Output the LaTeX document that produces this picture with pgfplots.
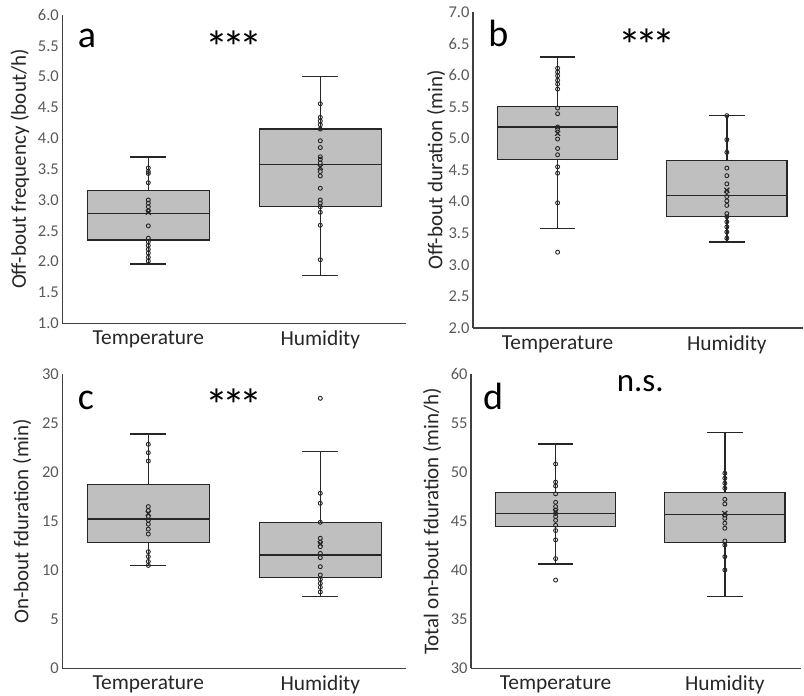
\documentclass[border=0pt]{standalone}
\usepackage{fontspec}
\setmainfont{Carlito}
\usepackage{pgfplots}
\pgfplotsset{compat=1.18}
\usepgfplotslibrary{statistics}

\definecolor{boxfill}{RGB}{191,191,191}
\definecolor{tickgray}{RGB}{89,89,89}
\definecolor{ink}{RGB}{38,38,38}
\definecolor{axisgray}{RGB}{64,64,64}

\pgfplotsset{
  panel/.style={
    scale only axis, anchor=south west,
    axis lines=left,
    axis line style={-, draw=axisgray, line width=1.3bp},
    major tick length=0pt,
    xmin=0.5, xtick={1,2}, xticklabels={Temperature,Humidity},
    tick label style={/pgf/number format/assume math mode=true},
    xticklabel style={font=\fontsize{21.4bp}{24bp}\selectfont, text=ink, yshift=-4bp},
    yticklabel style={font=\fontsize{16.5bp}{18bp}\selectfont, text=tickgray},
    ylabel style={font=\fontsize{21bp}{24bp}\selectfont, text=ink, anchor=center},
    clip=false,
    boxplot/draw direction=y,
    boxplot/box extend=0.71,
    boxplot/whisker extend=0.21,
  },
  onedec/.style={yticklabel style={/pgf/number format/.cd, fixed, fixed zerofill, precision=1}},
  bx/.style={draw=ink, fill=boxfill, line width=1.4bp, solid, mark=none},
  pts/.style={only marks, mark=o, mark size=2bp,
    mark options={draw=ink, fill=white, line width=0.9bp}},
  mn/.style={only marks, mark=x, mark size=3.5bp,
    mark options={draw=ink, line width=1.2bp}},
}
\tikzset{
  letter/.style={font=\fontsize{38bp}{40bp}\selectfont, anchor=base west, inner sep=0pt},
  sig/.style={font=\fontsize{46bp}{48bp}\selectfont, anchor=base, inner sep=0pt},
  ns/.style={font=\fontsize{33bp}{36bp}\selectfont, anchor=base, inner sep=0pt},
}
\newcommand{\stars}{*\kern-6bp*\kern-6bp*}

\begin{document}
\begin{tikzpicture}
\path[use as bounding box] (0,0) rectangle (804bp,696bp);

% a
\begin{axis}[panel, onedec, at={(62.3bp,372.7bp)}, width=344bp, height=308.3bp,
  xmax=2.5, ymin=1, ymax=6, ytick={1,1.5,...,6},
  ylabel={Off-bout frequency (bout/h)},
  ylabel style={at={(axis description cs:-0.123,0.5)}}]
\addplot[bx, boxplot prepared={lower whisker=1.96, lower quartile=2.35,
  median=2.78, upper quartile=3.15, upper whisker=3.70, draw position=1}] coordinates {};
\addplot[bx, boxplot prepared={lower whisker=1.78, lower quartile=2.89,
  median=3.58, upper quartile=4.15, upper whisker=5.00, draw position=2}] coordinates {};
\addplot[pts] coordinates {
  (1,3.52) (1,3.46) (1,3.43) (1,3.28) (1,3.00) (1,2.95) (1,2.89) (1,2.82)
  (1,2.58) (1,2.38) (1,2.32) (1,2.26) (1,2.20) (1,2.14) (1,2.07) (1,2.01)
  (2,4.56) (2,4.34) (2,4.28) (2,4.22) (2,4.15) (2,3.96) (2,3.85) (2,3.70)
  (2,3.66) (2,3.60) (2,3.46) (2,3.39) (2,3.19) (2,3.00) (2,2.95) (2,2.89)
  (2,2.80) (2,2.59) (2,2.03)
};
\addplot[mn] coordinates {(1,2.80) (2,3.53)};
\node[letter] at (axis cs:0.59,5.48) {a};
\node[sig] at (axis cs:1.5,5.22) {\stars};
\end{axis}

% b
\begin{axis}[panel, onedec, at={(473bp,368bp)}, width=330bp, height=316bp,
  xmax=2.45, ymin=2, ymax=7, ytick={2,2.5,...,7},
  ylabel={Off-bout duration (min)},
  ylabel style={at={(axis description cs:-0.112,0.5)}}]
\addplot[bx, boxplot prepared={lower whisker=3.57, lower quartile=4.67,
  median=5.18, upper quartile=5.50, upper whisker=6.29, draw position=1}] coordinates {};
\addplot[bx, boxplot prepared={lower whisker=3.36, lower quartile=3.76,
  median=4.10, upper quartile=4.65, upper whisker=5.36, draw position=2}] coordinates {};
\addplot[pts] coordinates {
  (1,6.11) (1,6.05) (1,5.99) (1,5.92) (1,5.86) (1,5.78) (1,5.48) (1,5.39)
  (1,5.18) (1,5.15) (1,4.99) (1,4.84) (1,4.74) (1,4.55) (1,4.45) (1,3.98)
  (1,3.20)
  (2,5.36) (2,4.98) (2,4.78) (2,4.53) (2,4.41) (2,4.28) (2,4.16) (2,4.08)
  (2,4.01) (2,3.94) (2,3.81) (2,3.76) (2,3.68) (2,3.60) (2,3.52) (2,3.42)
};
\addplot[mn] coordinates {(1,5.08) (2,4.18)};
\node[letter] at (axis cs:0.59,6.45) {b};
\node[sig] at (axis cs:1.53,6.22) {\stars};
\end{axis}

% c
\begin{axis}[panel, at={(62.3bp,27.7bp)}, width=344bp, height=294bp,
  xmax=2.5, ymin=0, ymax=30, ytick={0,5,...,30},
  ylabel={On-bout fduration (min)},
  ylabel style={at={(axis description cs:-0.117,0.5)}}]
\addplot[bx, boxplot prepared={lower whisker=10.48, lower quartile=12.86,
  median=15.24, upper quartile=18.78, upper whisker=23.9, draw position=1}] coordinates {};
\addplot[bx, boxplot prepared={lower whisker=7.31, lower quartile=9.25,
  median=11.56, upper quartile=14.90, upper whisker=22.10, draw position=2}] coordinates {};
\addplot[pts] coordinates {
  (1,22.86) (1,22.0) (1,21.15) (1,16.5) (1,16.1) (1,15.5) (1,15.1) (1,14.7)
  (1,14.2) (1,13.7) (1,11.9) (1,11.4) (1,10.9) (1,10.5)
  (2,27.55) (2,17.86) (2,16.84) (2,14.90) (2,13.27) (2,12.86) (2,12.41)
  (2,11.73) (2,11.29) (2,10.37) (2,9.52) (2,9.08) (2,8.67) (2,8.27) (2,7.79)
};
\addplot[mn] coordinates {(1,15.8) (2,12.7)};
\node[letter] at (axis cs:0.59,26.4) {c};
\node[sig] at (axis cs:1.5,25.2) {\stars};
\end{axis}

% d
\begin{axis}[panel, at={(471bp,27.7bp)}, width=330bp, height=294bp,
  xmax=2.45, ymin=30, ymax=60, ytick={30,35,...,60},
  ylabel={Total on-bout fduration (min/h)},
  ylabel style={at={(axis description cs:-0.118,0.5)}}]
\addplot[bx, boxplot prepared={lower whisker=40.65, lower quartile=44.46,
  median=45.78, upper quartile=47.93, upper whisker=52.89, draw position=1}] coordinates {};
\addplot[bx, boxplot prepared={lower whisker=37.31, lower quartile=42.86,
  median=45.71, upper quartile=47.96, upper whisker=54.04, draw position=2}] coordinates {};
\addplot[pts] coordinates {
  (1,50.85) (1,49.0) (1,48.6) (1,47.8) (1,46.94) (1,46.5) (1,46.15) (1,45.8)
  (1,45.48) (1,45.1) (1,44.6) (1,44.05) (1,43.1) (1,41.19) (1,39.0)
  (2,49.9) (2,49.39) (2,48.88) (2,48.37) (2,47.24) (2,46.77) (2,45.64)
  (2,45.3) (2,44.8) (2,44.29) (2,42.99) (2,42.58) (2,41.39) (2,40.03)
};
\addplot[mn] coordinates {(1,46.0) (2,45.8)};
\node[letter] at (axis cs:0.57,56.4) {d};
\node[ns] at (axis cs:1.5,58.2) {n.s.};
\end{axis}
\end{tikzpicture}
\end{document}
